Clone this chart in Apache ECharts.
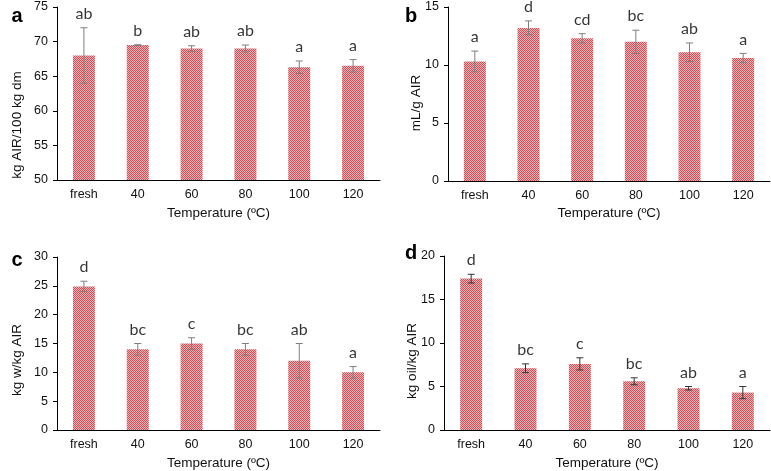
<!DOCTYPE html>
<html>
<head>
<meta charset="utf-8">
<script src="https://cdn.jsdelivr.net/npm/echarts@6/dist/echarts.min.js"></script>
<style>
html,body{margin:0;padding:0;background:#fff;}
#chart{width:771px;height:471px;}
</style>
</head>
<body>
<div id="chart"></div>
<script>
// ---- data ----
const categories = ['fresh', '40', '60', '80', '100', '120'];
const airMean = [68.0, 69.5, 69.0, 69.0, 66.3, 66.5];
const airErr  = [4.0, 0.05, 0.4, 0.5, 0.9, 0.9];
const airLetters = ['ab', 'b', 'ab', 'ab', 'a', 'a'];

const swMean = [10.3, 13.2, 12.3, 12.0, 11.1, 10.6];
const swErr  = [0.9, 0.6, 0.4, 1.0, 0.8, 0.4];
const swLetters = ['a', 'd', 'cd', 'bc', 'ab', 'a'];

const wrcMean = [24.9, 14.0, 15.0, 14.0, 12.0, 10.0];
const wrcErr  = [0.9, 1.0, 1.0, 1.0, 3.0, 1.0];
const wrcLetters = ['d', 'bc', 'c', 'bc', 'ab', 'a'];

const orcMean = [17.4, 7.1, 7.6, 5.6, 4.8, 4.3];
const orcErr  = [0.5, 0.5, 0.7, 0.4, 0.2, 0.7];
const orcLetters = ['d', 'bc', 'c', 'bc', 'ab', 'a'];

const panelLetters = ['a', 'b', 'c', 'd'];
const yNames = ['kg AIR/100 kg dm', 'mL/g AIR', 'kg w/kg AIR', 'kg oil/kg AIR'];
const xName = 'Temperature (ºC)';
const yRanges = [[50, 75, 5], [0, 15, 5], [0, 30, 5], [0, 20, 5]];

// ---- pattern ----
const pc = document.createElement('canvas');
pc.width = 2; pc.height = 2;
const pctx = pc.getContext('2d');
pctx.fillStyle = '#eeb4b7'; pctx.fillRect(0, 0, 2, 2);
pctx.fillStyle = '#d24e57'; pctx.fillRect(0, 0, 1, 1); pctx.fillRect(1, 1, 1, 1);

const panels = [
  {mean: airMean, err: airErr, letters: airLetters, grid: {left: 57, top: 7, width: 323, height: 173}, xGap: 26, errColor: '#7f7f7f', yName: [17, 125]},
  {mean: swMean, err: swErr, letters: swLetters, grid: {left: 448, top: 7, width: 322, height: 174}, xGap: 25, errColor: '#7f7f7f', yName: [416, 103]},
  {mean: wrcMean, err: wrcErr, letters: wrcLetters, grid: {left: 57, top: 257, width: 323, height: 174}, xGap: 26, errColor: '#7f7f7f', yName: [17, 360]},
  {mean: orcMean, err: orcErr, letters: orcLetters, grid: {left: 444, top: 256, width: 326, height: 174}, xGap: 26, errColor: '#333333', yName: [412, 361]}
];

const textColor = '#111';
const grids = [], xAxes = [], yAxes = [], series = [];
panels.forEach((p, i) => {
  grids.push(p.grid);
  xAxes.push({
    type: 'category', gridIndex: i, data: categories,
    name: xName, nameLocation: 'middle', nameGap: p.xGap,
    nameTextStyle: {fontFamily: 'Liberation Sans', fontSize: 13.5, color: textColor},
    axisLine: {lineStyle: {color: '#000', width: 1}},
    axisTick: {show: false},
    axisLabel: {fontFamily: 'Liberation Sans', fontSize: 12.5, color: textColor, margin: 8}
  });
  const r = yRanges[i];
  yAxes.push({
    type: 'value', gridIndex: i, min: r[0], max: r[1], interval: r[2],
    axisLine: {show: true, lineStyle: {color: '#000', width: 1}},
    axisTick: {show: true, length: 4, lineStyle: {color: '#000'}},
    splitLine: {show: false},
    axisLabel: {fontFamily: 'Liberation Sans', fontSize: 12.5, color: textColor, margin: 9}
  });
  series.push({
    type: 'bar', xAxisIndex: i, yAxisIndex: i, data: p.mean,
    barWidth: 22,
    itemStyle: {color: {image: pc, repeat: 'repeat'}},
    silent: true, animation: false
  });
  series.push({
    type: 'custom', xAxisIndex: i, yAxisIndex: i, z: 5, animation: false, silent: true,
    data: p.mean.map((m, k) => [k, m + p.err[k], m - p.err[k]]),
    renderItem: (params, api) => {
      const x = api.value(0);
      const hi = api.coord([x, api.value(1)]);
      const lo = api.coord([x, api.value(2)]);
      const cw = 3.5;
      const st = {stroke: p.errColor, lineWidth: 1};
      return {type: 'group', children: [
        {type: 'line', shape: {x1: hi[0], y1: hi[1], x2: lo[0], y2: lo[1]}, style: st},
        {type: 'line', shape: {x1: hi[0] - cw, y1: hi[1], x2: hi[0] + cw, y2: hi[1]}, style: st},
        {type: 'line', shape: {x1: lo[0] - cw, y1: lo[1], x2: lo[0] + cw, y2: lo[1]}, style: st}
      ]};
    }
  });
  series.push({
    type: 'scatter', xAxisIndex: i, yAxisIndex: i, symbolSize: 0, animation: false, silent: true,
    data: p.mean.map((m, k) => [k, m + p.err[k]]),
    label: {
      show: true, position: 'top', distance: 6,
      formatter: (d) => p.letters[d.dataIndex],
      fontFamily: 'Lato', fontSize: 16, color: '#000'
    }
  });
});

const labelPos = [[17.5, 17], [411, 17], [17.5, 261], [411, 254]];
const graphic = panelLetters.map((t, i) => ({
  type: 'text', left: labelPos[i][0] - 6, top: labelPos[i][1] - 11,
  style: {text: t, font: 'bold 20px "Liberation Sans"', fill: '#000'}
}));
panels.forEach((p, i) => {
  graphic.push({
    type: 'text', x: p.yName[0], y: p.yName[1], rotation: Math.PI / 2,
    style: {text: yNames[i], font: '13.5px "Liberation Sans"', fill: textColor, align: 'center', verticalAlign: 'middle'}
  });
});

const chart = echarts.init(document.getElementById('chart'));
chart.setOption({
  animation: false,
  grid: grids, xAxis: xAxes, yAxis: yAxes, series: series, graphic: graphic
});
</script>
</body>
</html>
